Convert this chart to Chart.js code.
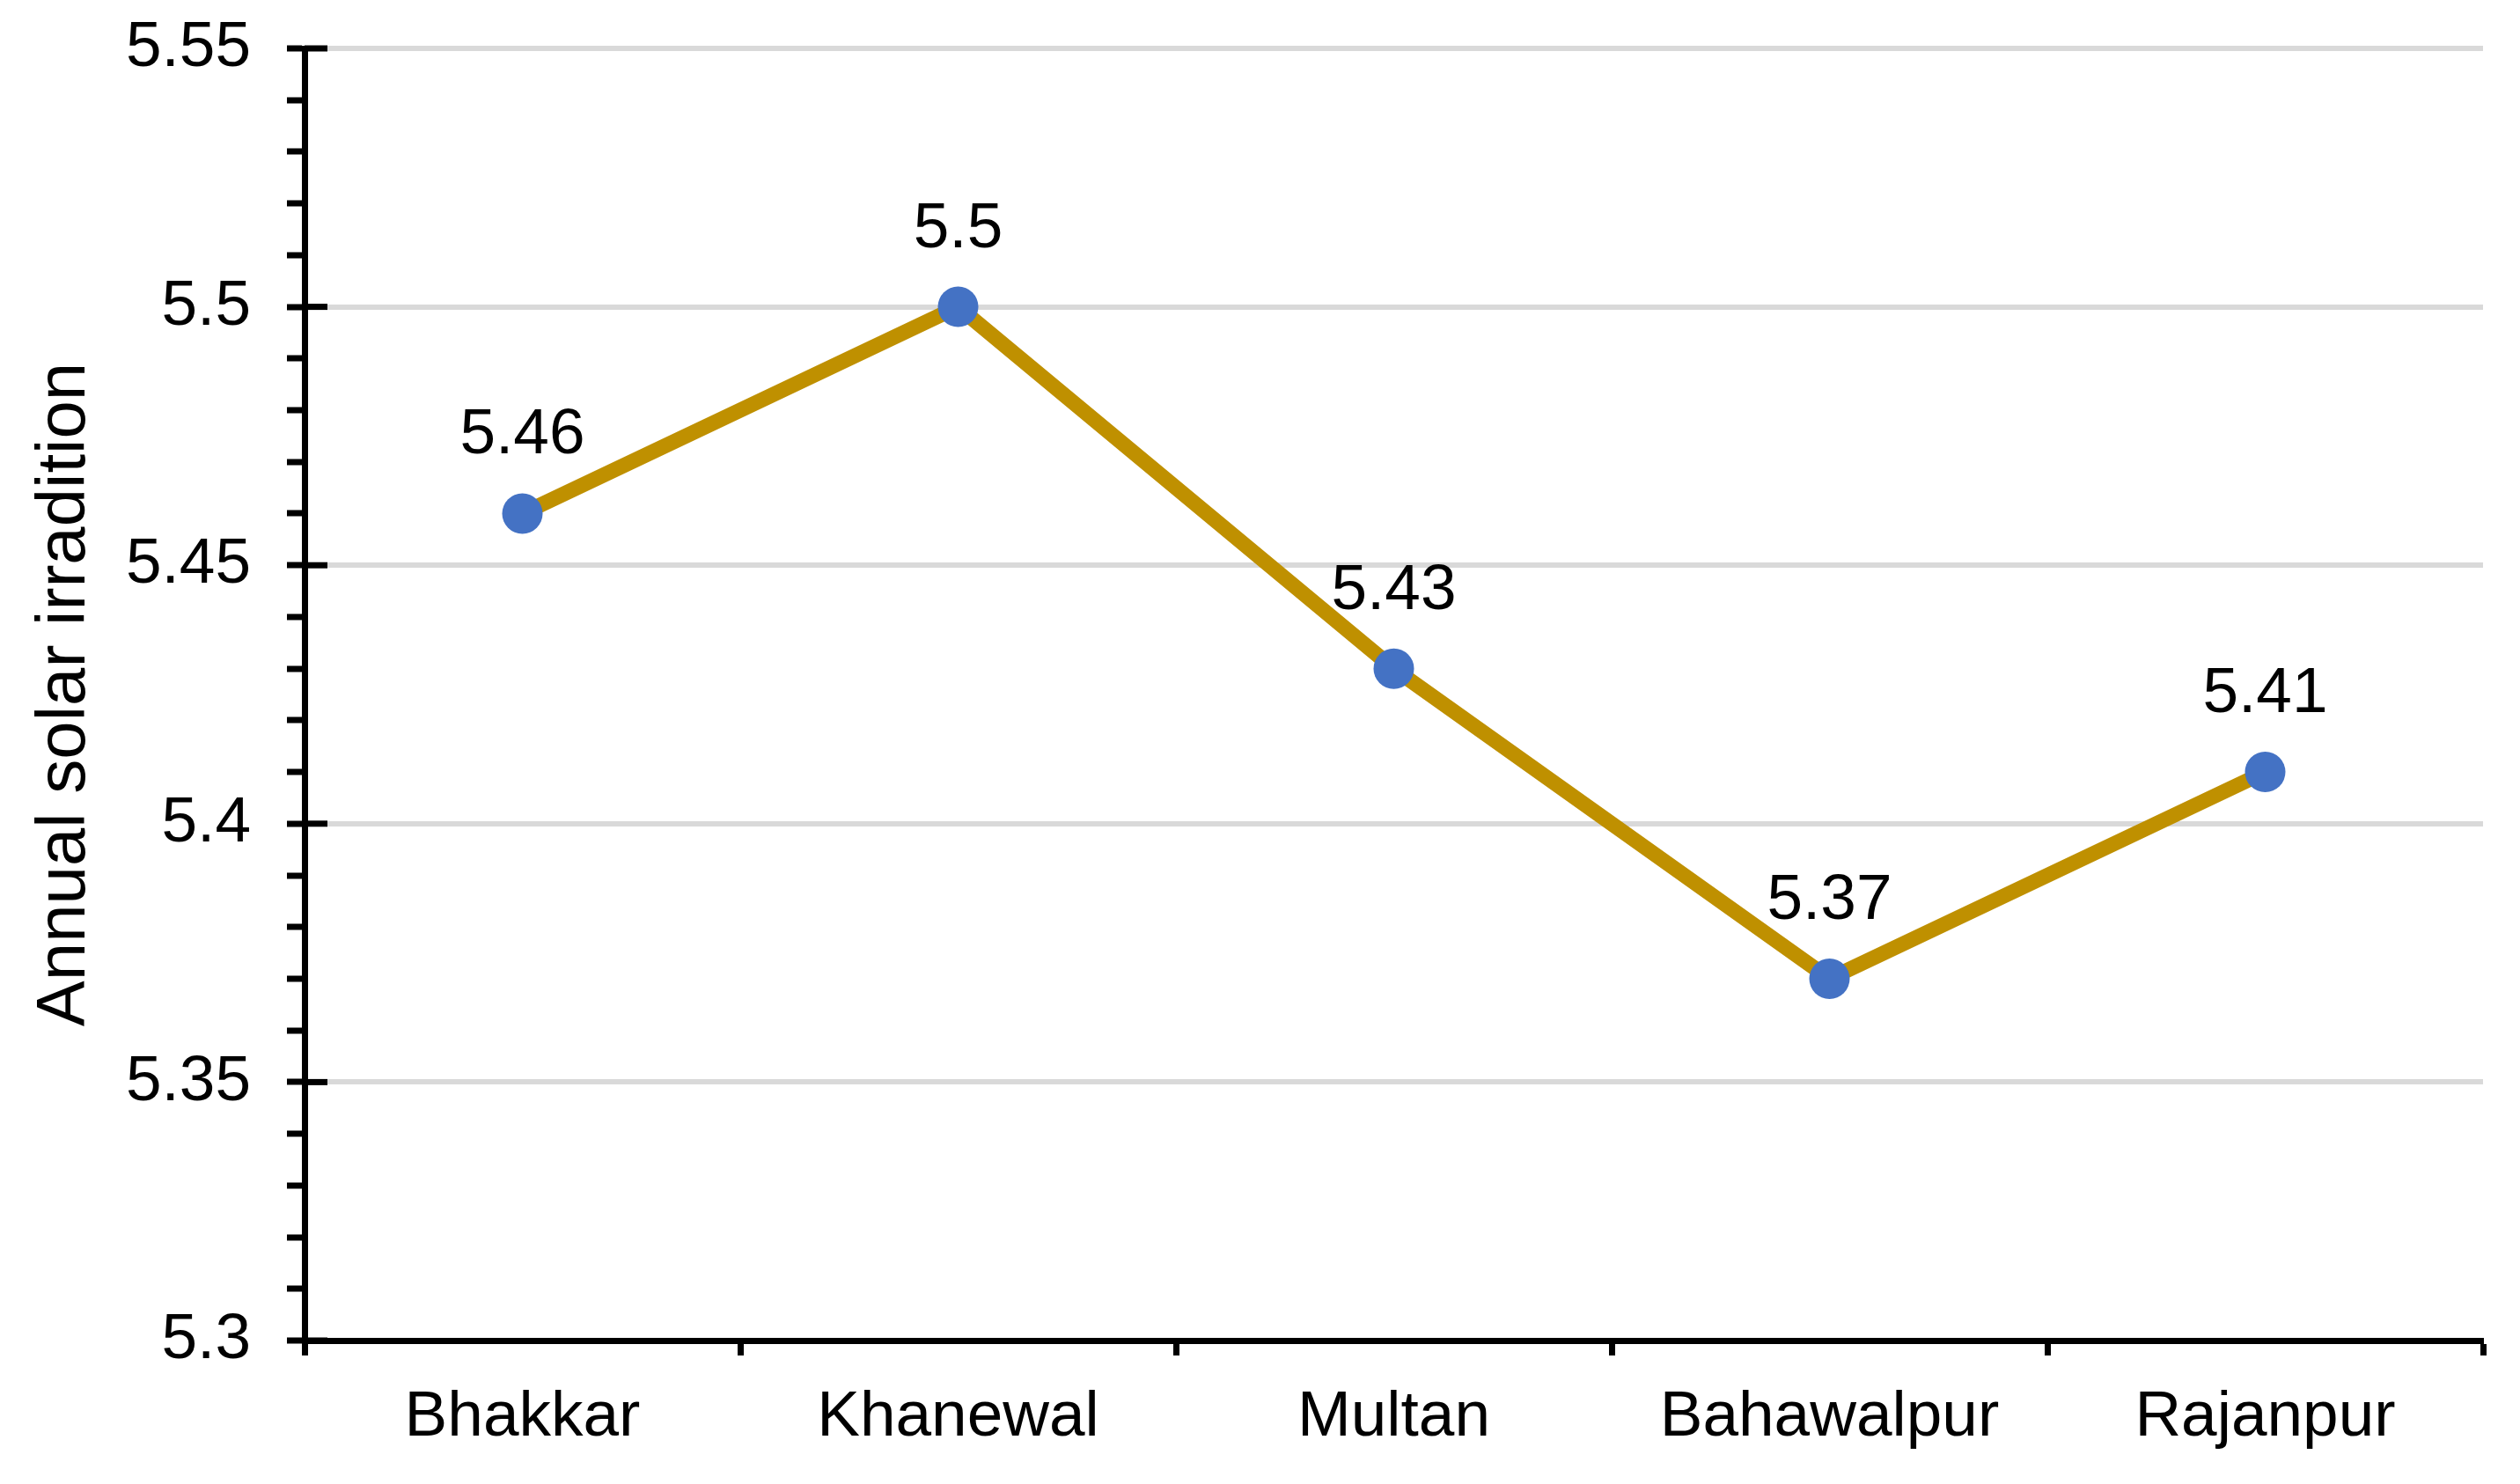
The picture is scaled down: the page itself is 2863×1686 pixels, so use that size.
<!DOCTYPE html>
<html>
<head>
<meta charset="utf-8">
<script src="https://cdn.jsdelivr.net/npm/chart.js@4.4.1/dist/chart.umd.min.js"></script>
<style>
  html, body { margin: 0; padding: 0; background: #fff; }
  #wrap { width: 2863px; height: 1686px; }
</style>
</head>
<body>
<div id="wrap"><canvas id="solarChart" width="2863" height="1686"></canvas></div>
<script>
// data
const districts = ["Bhakkar", "Khanewal", "Multan", "Bahawalpur", "Rajanpur"];
const irradiation = [5.46, 5.5, 5.43, 5.37, 5.41];
const yMin = 5.3;
const yMax = 5.55;
const yMajorStep = 0.05;
const yMinorStep = 0.01;
const yTitle = "Annual solar irradition";

const FONT = "'Liberation Sans', Arial, sans-serif";

const isMajor = (v) => Math.round(v * 100) % Math.round(yMajorStep * 100) === 0;

// value labels above each point
const valueLabels = {
  id: "valueLabels",
  afterDatasetsDraw(chart) {
    const ctx = chart.ctx;
    const meta = chart.getDatasetMeta(0);
    ctx.save();
    ctx.font = "73px " + FONT;
    ctx.fillStyle = "#000";
    ctx.textAlign = "center";
    ctx.textBaseline = "alphabetic";
    meta.data.forEach((pt, i) => {
      ctx.fillText(String(irradiation[i]), pt.x, pt.y - 68);
    });
    ctx.restore();
  }
};

// major y ticks also poke into the plot a little
const innerTicks = {
  id: "innerTicks",
  afterDraw(chart) {
    const y = chart.scales.y;
    const ctx = chart.ctx;
    ctx.save();
    ctx.strokeStyle = "#000";
    ctx.lineWidth = 7;
    y.ticks.forEach((t) => {
      if (!isMajor(t.value)) return;
      const py = y.getPixelForValue(t.value);
      ctx.beginPath();
      ctx.moveTo(y.right, py);
      ctx.lineTo(y.right + 26, py);
      ctx.stroke();
    });
    ctx.restore();
  }
};

new Chart(document.getElementById("solarChart"), {
  type: "line",
  data: {
    labels: districts,
    datasets: [{
      data: irradiation,
      borderColor: "#BF9000",
      borderWidth: 17,
      backgroundColor: "#4472C4",
      pointBackgroundColor: "#4472C4",
      pointBorderWidth: 0,
      pointRadius: 23,
      tension: 0,
      fill: false
    }]
  },
  options: {
    responsive: false,
    animation: false,
    devicePixelRatio: 1,
    layout: { padding: { top: 55, right: 42, left: 0, bottom: 0 } },
    plugins: {
      legend: { display: false },
      tooltip: { enabled: false }
    },
    scales: {
      x: {
        type: "category",
        offset: true,
        afterFit: (s) => { s.height = 163; s.paddingLeft = 0; s.paddingRight = 0; },
        grid: {
          offset: true,
          drawOnChartArea: false,
          tickColor: "#000",
          tickWidth: 7,
          tickLength: 17
        },
        border: { color: "#000", width: 7 },
        ticks: {
          color: "#000",
          font: { family: FONT, size: 73 },
          padding: 27,
          maxRotation: 0,
          autoSkip: false
        }
      },
      y: {
        min: yMin,
        max: yMax,
        afterFit: (s) => { s.width = 346; s.paddingTop = 0; s.paddingBottom = 0; },
        grid: {
          color: (c) => (c.tick && isMajor(c.tick.value) ? "#D9D9D9" : "rgba(0,0,0,0)"),
          lineWidth: 6,
          tickColor: "#000",
          tickWidth: 7,
          tickLength: 20
        },
        border: { color: "#000", width: 7 },
        ticks: {
          stepSize: yMinorStep,
          autoSkip: false,
          color: "#000",
          font: { family: FONT, size: 73 },
          padding: 41,
          callback: (v) => (isMajor(v) ? String(+v.toFixed(2)) : "")
        },
        title: {
          display: true,
          text: yTitle,
          color: "#000",
          font: { family: FONT, size: 78 },
          padding: { top: 28, bottom: 0 }
        }
      }
    }
  },
  plugins: [valueLabels, innerTicks]
});
</script>
</body>
</html>
